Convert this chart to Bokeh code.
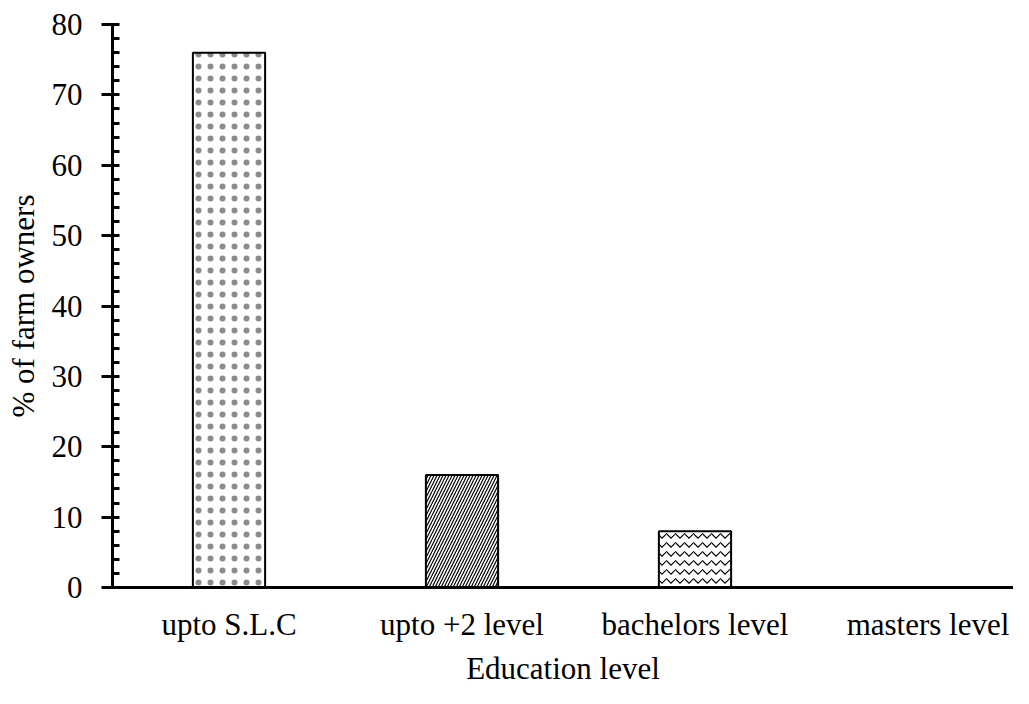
from bokeh.plotting import figure
from bokeh.models import ColumnDataSource, Range1d, FixedTicker, SingleIntervalTicker
from bokeh.embed import file_html
from bokeh.resources import INLINE

categories = ["upto S.L.C", "upto +2 level", "bachelors level", "masters level"]
values = [76, 16, 8, 0]

# styles (not data)
hatch_patterns = ["dot", "right_diagonal_line", "horizontal_wave", "blank"]
hatch_scales = [12, 6, 9, 8]
hatch_weights = [0.6, 1.2, 1.2, 1]
hatch_alphas = [0.45, 1.0, 1.0, 1.0]

positions = [i + 0.5 for i in range(len(categories))]
src = ColumnDataSource(dict(x=positions, val=values, hatch=hatch_patterns,
                            hs=hatch_scales, hw=hatch_weights, ha=hatch_alphas))

p = figure(width=1013, height=688, x_range=Range1d(0, 3.867),
           y_range=Range1d(0, 80), output_backend="svg", toolbar_location=None,
           min_border_left=112, min_border_right=0, min_border_top=24, min_border_bottom=92)

p.vbar(x="x", top="val", width=0.31, source=src, fill_color="white",
       line_color="black", line_width=2, hatch_pattern="hatch", hatch_color="black",
       hatch_scale="hs", hatch_weight="hw", hatch_alpha="ha")

font = "Liberation Serif"
p.grid.visible = False
p.outline_line_color = None
p.background_fill_color = "white"

p.yaxis.ticker = SingleIntervalTicker(interval=10, num_minor_ticks=5)
p.yaxis.axis_line_width = 3
p.yaxis.major_tick_line_width = 3
p.yaxis.minor_tick_line_width = 3
p.yaxis.major_tick_in = 6
p.yaxis.major_tick_out = 11
p.yaxis.minor_tick_in = 7
p.yaxis.minor_tick_out = 0
p.yaxis.major_label_standoff = 19
p.yaxis.axis_label = "% of farm owners"
p.yaxis.axis_label_standoff = 8

p.xaxis.ticker = FixedTicker(ticks=positions)
p.xaxis.major_label_overrides = {pos: c for pos, c in zip(positions, categories)}
p.xaxis.axis_line_width = 3
p.xaxis.major_tick_line_color = None
p.xaxis.minor_tick_line_color = None
p.xaxis.major_tick_out = 0
p.xaxis.major_tick_in = 0
p.xaxis.major_label_standoff = 19
p.xaxis.axis_label = "Education level"
p.xaxis.axis_label_standoff = 6

for ax in (p.xaxis, p.yaxis):
    ax.major_label_text_font = font
    ax.major_label_text_font_size = "31px"
    ax.major_label_text_color = "black"
    ax.axis_label_text_font = font
    ax.axis_label_text_font_size = "31px"
    ax.axis_label_text_font_style = "normal"
    ax.axis_label_text_color = "black"
    ax.axis_line_color = "black"
p.yaxis.major_label_orientation = "horizontal"

open("out.html", "w").write(file_html(p, INLINE))
